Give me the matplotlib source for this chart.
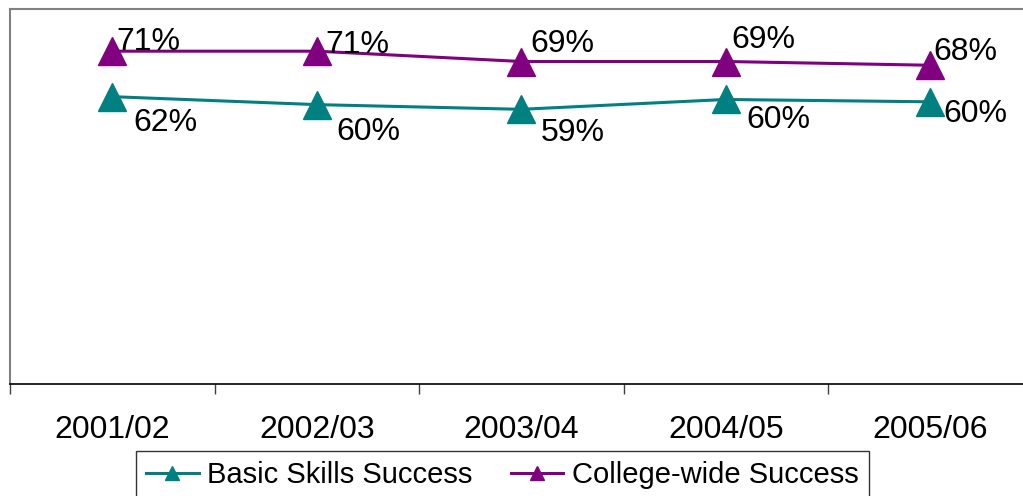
import matplotlib
matplotlib.use('Agg')
import matplotlib.pyplot as plt

plt.rcParams['font.family'] = ['Liberation Sans', 'DejaVu Sans']

years = ['2001/02', '2002/03', '2003/04', '2004/05', '2005/06']
basic_skills = [0.613, 0.596, 0.586, 0.607, 0.602]
college_wide = [0.710, 0.710, 0.688, 0.688, 0.680]
basic_labels = ['62%', '60%', '59%', '60%', '60%']
college_labels = ['71%', '71%', '69%', '69%', '68%']

teal = '#008080'
purple = '#800080'

fig = plt.figure(figsize=(10.23, 4.96), dpi=100)
# plot area is cut by the right edge of the picture, like in the original
ax = fig.add_axes([10 / 1023, 112 / 496, 1013 / 1023, 375 / 496])

x = list(range(len(years)))
l1, = ax.plot(x, basic_skills, color=teal, lw=2.2, marker='^', ms=20,
              label='Basic Skills Success')
l2, = ax.plot(x, college_wide, color=purple, lw=2.2, marker='^', ms=20,
              label='College-wide Success')

# label offsets in pixels (dx right, dy up, text baseline)
college_off = [(4, 1), (9, -2), (9, 9), (6, 13), (3, 5)]
basic_off = [(21, -34), (20, -35), (19, -32), (21, -29), (13, -20)]
for i in x:
    ax.annotate(college_labels[i], (i, college_wide[i]), xytext=college_off[i],
                textcoords='offset pixels', fontsize=23, ha='left', va='baseline')
    ax.annotate(basic_labels[i], (i, basic_skills[i]), xytext=basic_off[i],
                textcoords='offset pixels', fontsize=23, ha='left', va='baseline')

ax.set_xlim(-0.5, -0.5 + 1013 / 204.5)
ax.set_ylim(0, 0.8)
ax.set_yticks([])
ax.set_xticks(x)
ax.set_xticklabels(years, fontsize=23)
ax.set_xticks([i - 0.5 for i in range(5)], minor=True)
ax.tick_params(axis='x', which='major', length=0, pad=22)
ax.tick_params(axis='x', which='minor', length=7, width=1, color='#404040', direction='out')

for side in ['left', 'top']:
    ax.spines[side].set_color('#808080')
    ax.spines[side].set_linewidth(1.5)
ax.spines['right'].set_visible(False)
ax.spines['bottom'].set_color('black')
ax.spines['bottom'].set_linewidth(1.2)

leg = fig.legend(handles=[l1, l2], loc='upper left', bbox_to_anchor=(136 / 1023, 1 - 451 / 496),
                 ncol=2, fontsize=21, frameon=True, fancybox=False, borderaxespad=0,
                 borderpad=0.35, handlelength=1.8, handletextpad=0.3, columnspacing=1.3,
                 markerscale=0.5)
leg.get_frame().set_edgecolor('black')
leg.get_frame().set_linewidth(1.0)

fig.savefig('out.png', dpi=100)
